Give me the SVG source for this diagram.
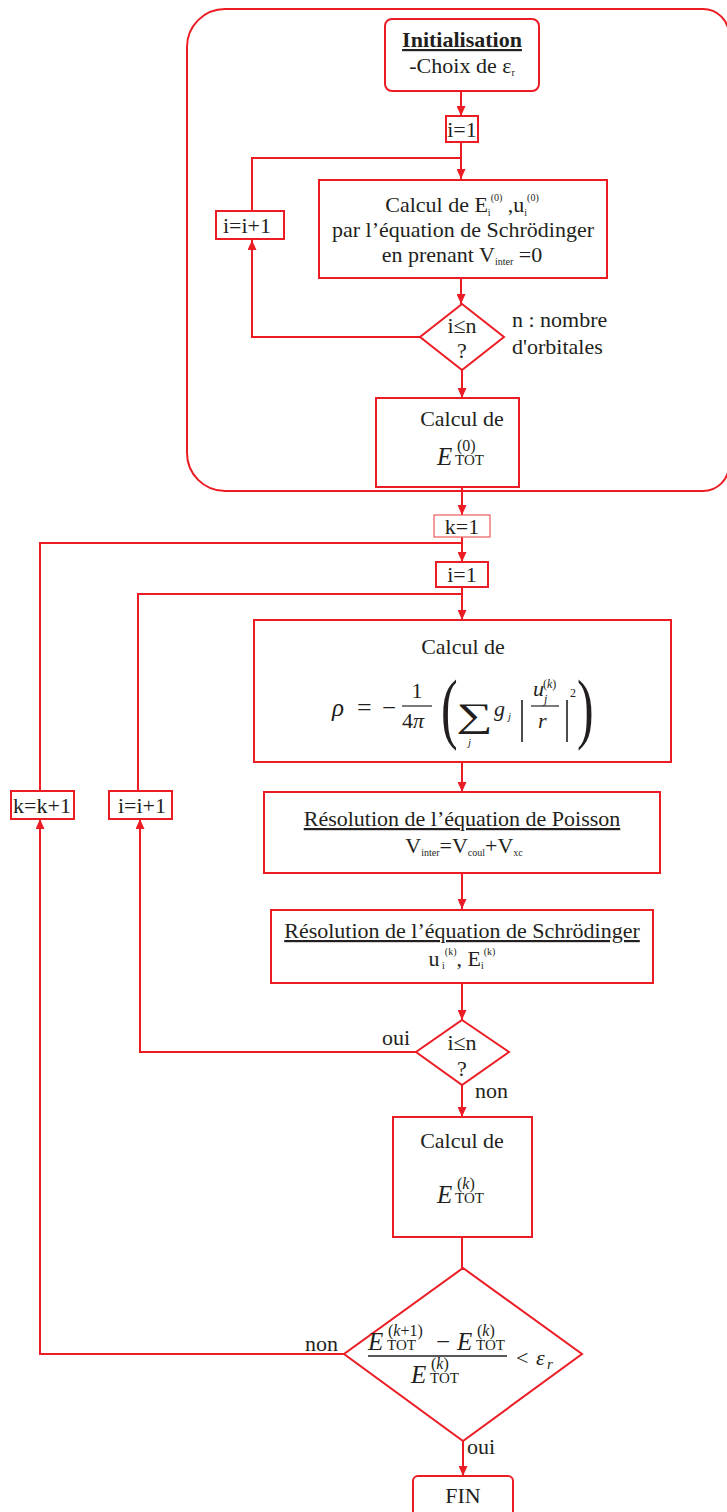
<svg xmlns="http://www.w3.org/2000/svg" width="727" height="1512" viewBox="0 0 727 1512">
<style>
.b{fill:#fff;stroke:#ec1c24;stroke-width:2}
.f{fill:none;stroke:#ec1c24;stroke-width:2}
.c{fill:none;stroke:#ec1c24;stroke-width:2}
.t{font-family:'Liberation Serif','Times New Roman',serif;font-size:22px;fill:#231f20}
.m{font-family:'Liberation Serif','Times New Roman',serif;font-style:italic;fill:#231f20}
.r{font-family:'Liberation Serif','Times New Roman',serif;fill:#231f20}
.s{font-size:10px}
</style>
<defs>
<marker id="a" markerWidth="10" markerHeight="9" refX="10" refY="4.5" orient="auto" markerUnits="userSpaceOnUse">
<path d="M0,0 L10,4.5 L0,9 z" fill="#ec1c24"/>
</marker>
</defs>
<rect width="727" height="1512" fill="#fff"/>
<g id="frame">
<path class="f" d="M187,47 A38,38 0 0 1 225,9 H703 A26,26 0 0 1 729,35 V465 A26,26 0 0 1 703,491 H225 A38,38 0 0 1 187,453 Z"/>
</g>
<g id="connectors">
<path class="c" d="M461,91 V116" marker-end="url(#a)"/>
<path class="c" d="M461,143 V179" marker-end="url(#a)"/>
<path class="c" d="M252,210 V158 H461"/>
<path class="c" d="M461,277 V304" marker-end="url(#a)"/>
<path class="c" d="M420,337 H252 V240" marker-end="url(#a)"/>
<path class="c" d="M462,370 V398" marker-end="url(#a)"/>
<path class="c" d="M462,487 V515" marker-end="url(#a)"/>
<path class="c" d="M462,537 V562" marker-end="url(#a)"/>
<path class="c" d="M40,791 V543 H462"/>
<path class="c" d="M462,587 V620" marker-end="url(#a)"/>
<path class="c" d="M138,791 V594 H462"/>
<path class="c" d="M462,762 V792" marker-end="url(#a)"/>
<path class="c" d="M462,873 V909" marker-end="url(#a)"/>
<path class="c" d="M462,982 V1020" marker-end="url(#a)"/>
<path class="c" d="M416,1052 H140 V819" marker-end="url(#a)"/>
<path class="c" d="M462,1085 V1117" marker-end="url(#a)"/>
<path class="c" d="M462,1237 V1268"/>
<path class="c" d="M344,1354 H40 V819" marker-end="url(#a)"/>
<path class="c" d="M463,1441 V1476" marker-end="url(#a)"/>
</g>
<g id="n-init">
<rect class="b" x="385" y="19" width="154" height="72" rx="7"/>
<text class="t" x="462" y="47" text-anchor="middle" font-weight="bold" text-decoration="underline">Initialisation</text>
<text class="t" x="462" y="73" text-anchor="middle">-Choix de ε<tspan class="s" dy="3">r</tspan></text>
</g>
<g id="n-i1a">
<rect class="b" x="446" y="116" width="32" height="26"/>
<text class="t" x="462" y="137" text-anchor="middle">i=1</text>
</g>
<g id="n-inc1">
<rect class="b" x="216" y="211" width="68" height="28"/>
<text class="t" x="247" y="233" text-anchor="middle">i=i+1</text>
</g>
<g id="n-calc0">
<rect class="b" x="319" y="180" width="288" height="98"/>
<text class="t" x="462" y="212" text-anchor="middle">Calcul de E<tspan class="s" dy="4">i</tspan><tspan class="s" dy="-15">(0)</tspan><tspan dy="11"> ,u</tspan><tspan class="s" dy="4">i</tspan><tspan class="s" dy="-15">(0)</tspan></text>
<text class="t" x="463" y="237" text-anchor="middle">par l’équation de Schrödinger</text>
<text class="t" x="462" y="262" text-anchor="middle">en prenant V<tspan class="s" dy="3">inter</tspan><tspan dy="-3"> =0</tspan></text>
</g>
<g id="n-d1">
<polygon class="b" points="462,304 504,337 462,370 420,337"/>
<text class="t" x="462" y="333" text-anchor="middle">i≤n</text>
<text class="t" x="462" y="358" text-anchor="middle">?</text>
</g>
<text class="t" x="512" y="327" font-size="23">n : nombre</text>
<text class="t" x="512" y="354" font-size="23">d'orbitales</text>
<g id="n-etot0">
<rect class="b" x="376" y="398" width="143" height="89"/>
<text class="t" x="462" y="426" text-anchor="middle">Calcul de</text>
<text class="m" x="437" y="465" font-size="25">E</text>
<text class="r" x="455" y="465" font-size="15">TOT</text>
<text class="r" x="457" y="451" font-size="16">(0)</text>
</g>
<g id="n-k1">
<rect x="434" y="515" width="56" height="22" fill="#fff" stroke="#ee5a5f" stroke-width="1.2"/>
<text class="t" x="462" y="534" text-anchor="middle">k=1</text>
</g>
<g id="n-i1b">
<rect class="b" x="436" y="562" width="52" height="25"/>
<text class="t" x="462" y="582" text-anchor="middle">i=1</text>
</g>
<g id="n-kinc">
<rect class="b" x="11" y="791" width="63" height="28"/>
<text class="t" x="42" y="813" text-anchor="middle">k=k+1</text>
</g>
<g id="n-iinc">
<rect class="b" x="109" y="791" width="63" height="28"/>
<text class="t" x="142" y="813" text-anchor="middle">i=i+1</text>
</g>
<g id="n-rho">
<rect class="b" x="254" y="620" width="417" height="142"/>
<text class="t" x="463" y="654" text-anchor="middle">Calcul de</text>
<text class="m" x="332" y="716" font-size="25">ρ</text>
<text class="r" x="357" y="716" font-size="26">=</text>
<text class="r" x="382" y="716" font-size="25">−</text>
<text class="r" x="417" y="698" font-size="22" text-anchor="middle">1</text>
<line x1="402" y1="706" x2="432" y2="706" stroke="#231f20" stroke-width="1.2"/>
<text class="r" x="402" y="728" font-size="22">4</text>
<text class="m" x="413" y="728" font-size="22">π</text>
<text class="r" font-size="50" transform="translate(441,734) scale(1,1.55)">(</text>
<text class="r" font-size="34" transform="translate(456,727) scale(1.5,1)">∑</text>
<text class="m" x="468" y="746" font-size="11">j</text>
<text class="m" x="494" y="716" font-size="22">g</text>
<text class="m" x="508" y="720" font-size="11">j</text>
<line x1="522" y1="700" x2="522" y2="742" stroke="#231f20" stroke-width="1.6"/>
<text class="m" x="533" y="696" font-size="22">u</text>
<text class="m" x="544" y="703" font-size="12">j</text>
<text class="r" x="543" y="688" font-size="12">(<tspan font-style="italic">k</tspan>)</text>
<line x1="531" y1="706" x2="559" y2="706" stroke="#231f20" stroke-width="1.2"/>
<text class="m" x="538" y="728" font-size="22">r</text>
<line x1="567" y1="700" x2="567" y2="742" stroke="#231f20" stroke-width="1.6"/>
<text class="r" x="570" y="697" font-size="12">2</text>
<text class="r" font-size="50" transform="translate(577,734) scale(1,1.55)">)</text>
</g>
<g id="n-poisson">
<rect class="b" x="264" y="792" width="396" height="81"/>
<text class="t" x="462" y="826" text-anchor="middle" text-decoration="underline">Résolution de l’équation de Poisson</text>
<text class="t" x="464" y="853" text-anchor="middle">V<tspan class="s" dy="3">inter</tspan><tspan dy="-3">=V</tspan><tspan class="s" dy="3">coul</tspan><tspan dy="-3">+V</tspan><tspan class="s" dy="3">xc</tspan></text>
</g>
<g id="n-schro">
<rect class="b" x="271" y="910" width="382" height="73"/>
<text class="t" x="462" y="938" text-anchor="middle" text-decoration="underline">Résolution de l’équation de Schrödinger</text>
<text class="t" x="462" y="966" text-anchor="middle">u<tspan class="s" dy="3"> i</tspan><tspan class="s" dy="-14">(k)</tspan><tspan dy="11">, E</tspan><tspan class="s" dy="3">i</tspan><tspan class="s" dy="-14">(k)</tspan></text>
</g>
<g id="n-d2">
<polygon class="b" points="462,1020 509,1052 462,1085 416,1052"/>
<text class="t" x="462" y="1050" text-anchor="middle">i≤n</text>
<text class="t" x="462" y="1076" text-anchor="middle">?</text>
</g>
<text class="t" x="382" y="1045">oui</text>
<text class="t" x="475" y="1098">non</text>
<g id="n-etotk">
<rect class="b" x="393" y="1117" width="139" height="120"/>
<text class="t" x="462" y="1148" text-anchor="middle">Calcul de</text>
<text class="m" x="437" y="1203" font-size="25">E</text>
<text class="r" x="455" y="1203" font-size="15">TOT</text>
<text class="r" x="457" y="1189" font-size="16">(<tspan font-style="italic">k</tspan>)</text>
</g>
<g id="n-d3">
<polygon class="b" points="463,1268 582,1354 463,1441 344,1354"/>
<text class="m" x="368" y="1350" font-size="25">E</text>
<text class="r" x="387" y="1350" font-size="15">TOT</text>
<text class="r" x="388" y="1336" font-size="16">(<tspan font-style="italic">k</tspan>+1)</text>
<text class="r" x="436" y="1350" font-size="25">−</text>
<text class="m" x="457" y="1350" font-size="25">E</text>
<text class="r" x="476" y="1350" font-size="15">TOT</text>
<text class="r" x="477" y="1336" font-size="16">(<tspan font-style="italic">k</tspan>)</text>
<line x1="368" y1="1356" x2="507" y2="1356" stroke="#231f20" stroke-width="1.4"/>
<text class="m" x="411" y="1383" font-size="25">E</text>
<text class="r" x="430" y="1383" font-size="15">TOT</text>
<text class="r" x="431" y="1369" font-size="16">(<tspan font-style="italic">k</tspan>)</text>
<text class="r" x="516" y="1365" font-size="22">&lt;</text>
<text class="m" x="536" y="1365" font-size="22">ε</text>
<text class="m" x="547" y="1369" font-size="15">r</text>
</g>
<text class="t" x="305" y="1351">non</text>
<text class="t" x="467" y="1454">oui</text>
<g id="n-fin">
<rect class="b" x="413" y="1476" width="100" height="45" rx="5"/>
<text class="t" x="463" y="1503" text-anchor="middle">FIN</text>
</g>
</svg>
